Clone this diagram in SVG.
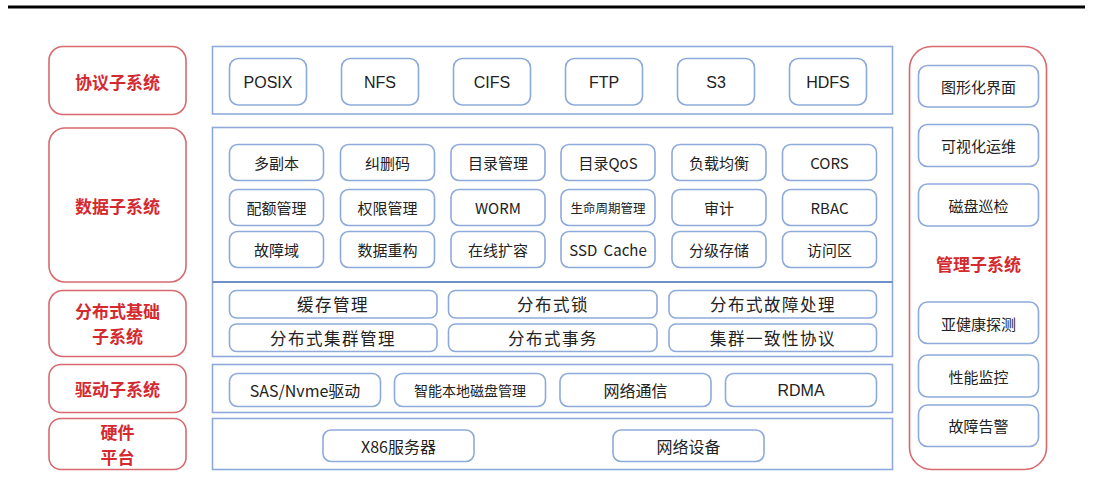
<svg xmlns="http://www.w3.org/2000/svg" width="1093" height="485" viewBox="0 0 1093 485">
<style>
.red{fill:#fff;stroke:#d86a6e;stroke-width:1.6}
.panel{fill:#fff;stroke:#8eaadb;stroke-width:1.6}
.box{fill:#fff;stroke:#8eaadb;stroke-width:1.6}
.rt{font-family:"Noto Sans CJK SC","Liberation Sans",sans-serif;font-size:17px;font-weight:bold;fill:#d42a2f;text-anchor:middle;dominant-baseline:central}
.t{font-family:"Noto Sans CJK SC","Liberation Sans",sans-serif;font-size:15px;fill:#222;text-anchor:middle;dominant-baseline:central}
.p{font-family:"Liberation Sans","Noto Sans CJK SC",sans-serif;font-size:16px;fill:#222;text-anchor:middle;dominant-baseline:central}
.d{font-family:"Noto Sans CJK SC","Liberation Sans",sans-serif;font-size:16.5px;fill:#222;text-anchor:middle;dominant-baseline:central;letter-spacing:1.5px}
</style>
<rect x="0" y="0" width="1093" height="485" fill="#fff"/>
<line x1="8" y1="7" x2="1085" y2="7" stroke="#000" stroke-width="3"/>

<g id="left-labels">
<g id="l-protocol"><rect class="red" x="49" y="46.5" width="137" height="68" rx="14"/><text class="rt" x="117.5" y="81">协议子系统</text></g>
<g id="l-data"><rect class="red" x="49" y="128" width="137" height="154" rx="16"/><text class="rt" x="117.5" y="205">数据子系统</text></g>
<g id="l-dist"><rect class="red" x="49" y="290.5" width="137" height="66" rx="14"/><text class="rt" x="117.5" y="310.5">分布式基础</text><text class="rt" x="117.5" y="335.5">子系统</text></g>
<g id="l-driver"><rect class="red" x="49" y="364.5" width="137" height="48" rx="12"/><text class="rt" x="117.5" y="388.5">驱动子系统</text></g>
<g id="l-hw"><rect class="red" x="49" y="418.5" width="137" height="51" rx="12"/><text class="rt" x="117.5" y="431.5">硬件</text><text class="rt" x="117.5" y="456.5">平台</text></g>
</g>

<g id="panels">
<rect class="panel" x="212.5" y="46.5" width="680" height="67.5"/>
<rect class="panel" x="212.5" y="127.5" width="680" height="229"/>
<line x1="212.5" y1="282" x2="892.5" y2="282" stroke="#6f8fc8" stroke-width="1.8"/>
<rect class="panel" x="212.5" y="364.5" width="680" height="48"/>
<rect class="panel" x="212.5" y="418.5" width="680" height="51"/>
</g>

<g id="protocol">
<g id="n-posix"><rect class="box" x="229.5" y="58.5" width="77" height="46.5" rx="9"/><text class="p" x="268" y="82">POSIX</text></g>
<g id="n-nfs"><rect class="box" x="341.5" y="58.5" width="77" height="46.5" rx="9"/><text class="p" x="380" y="82">NFS</text></g>
<g id="n-cifs"><rect class="box" x="453.5" y="58.5" width="77" height="46.5" rx="9"/><text class="p" x="492" y="82">CIFS</text></g>
<g id="n-ftp"><rect class="box" x="565.5" y="58.5" width="77" height="46.5" rx="9"/><text class="p" x="604" y="82">FTP</text></g>
<g id="n-s3"><rect class="box" x="677.5" y="58.5" width="77" height="46.5" rx="9"/><text class="p" x="716" y="82">S3</text></g>
<g id="n-hdfs"><rect class="box" x="789.5" y="58.5" width="77" height="46.5" rx="9"/><text class="p" x="828" y="82">HDFS</text></g>
</g>

<g id="data">
<g id="n-d1"><rect class="box" x="229.5" y="144.5" width="94" height="36" rx="8"/><text class="t" x="276.5" y="162">多副本</text></g>
<g id="n-d2"><rect class="box" x="340.5" y="144.5" width="94" height="36" rx="8"/><text class="t" x="387.5" y="162">纠删码</text></g>
<g id="n-d3"><rect class="box" x="451" y="144.5" width="94" height="36" rx="8"/><text class="t" x="498" y="162">目录管理</text></g>
<g id="n-d4"><rect class="box" x="561" y="144.5" width="94" height="36" rx="8"/><text class="t" x="608" y="162">目录QoS</text></g>
<g id="n-d5"><rect class="box" x="672" y="144.5" width="94" height="36" rx="8"/><text class="t" x="719" y="162">负载均衡</text></g>
<g id="n-d6"><rect class="box" x="782.5" y="144.5" width="94" height="36" rx="8"/><text class="t" x="829.5" y="162">CORS</text></g>

<g id="n-d7"><rect class="box" x="229.5" y="189.5" width="94" height="36" rx="8"/><text class="t" x="276.5" y="207.5">配额管理</text></g>
<g id="n-d8"><rect class="box" x="340.5" y="189.5" width="94" height="36" rx="8"/><text class="t" x="387.5" y="207.5">权限管理</text></g>
<g id="n-d9"><rect class="box" x="451" y="189.5" width="94" height="36" rx="8"/><text class="t" x="498" y="207.5">WORM</text></g>
<g id="n-d10"><rect class="box" x="561" y="189.5" width="94" height="36" rx="8"/><text class="t" x="608" y="207.5" style="font-size:12.5px">生命周期管理</text></g>
<g id="n-d11"><rect class="box" x="672" y="189.5" width="94" height="36" rx="8"/><text class="t" x="719" y="207.5">审计</text></g>
<g id="n-d12"><rect class="box" x="782.5" y="189.5" width="94" height="36" rx="8"/><text class="t" x="829.5" y="207.5">RBAC</text></g>

<g id="n-d13"><rect class="box" x="229.5" y="231.5" width="94" height="36" rx="8"/><text class="t" x="276.5" y="249.5">故障域</text></g>
<g id="n-d14"><rect class="box" x="340.5" y="231.5" width="94" height="36" rx="8"/><text class="t" x="387.5" y="249.5">数据重构</text></g>
<g id="n-d15"><rect class="box" x="451" y="231.5" width="94" height="36" rx="8"/><text class="t" x="498" y="249.5">在线扩容</text></g>
<g id="n-d16"><rect class="box" x="561" y="231.5" width="94" height="36" rx="8"/><text class="t" x="608" y="249.5" style="word-spacing:3px">SSD Cache</text></g>
<g id="n-d17"><rect class="box" x="672" y="231.5" width="94" height="36" rx="8"/><text class="t" x="719" y="249.5">分级存储</text></g>
<g id="n-d18"><rect class="box" x="782.5" y="231.5" width="94" height="36" rx="8"/><text class="t" x="829.5" y="249.5">访问区</text></g>
</g>

<g id="distributed">
<g id="n-c1"><rect class="box" x="229.5" y="290.5" width="207.5" height="27.5" rx="7"/><text class="d" x="333" y="304">缓存管理</text></g>
<g id="n-c2"><rect class="box" x="448.5" y="290.5" width="208.5" height="27.5" rx="7"/><text class="d" x="553" y="304">分布式锁</text></g>
<g id="n-c3"><rect class="box" x="669" y="290.5" width="207.5" height="27.5" rx="7"/><text class="d" x="773" y="304">分布式故障处理</text></g>
<g id="n-c4"><rect class="box" x="229.5" y="324" width="207.5" height="27.5" rx="7"/><text class="d" x="333" y="337.5">分布式集群管理</text></g>
<g id="n-c5"><rect class="box" x="448.5" y="324" width="208.5" height="27.5" rx="7"/><text class="d" x="553" y="337.5">分布式事务</text></g>
<g id="n-c6"><rect class="box" x="669" y="324" width="207.5" height="27.5" rx="7"/><text class="d" x="773" y="337.5">集群一致性协议</text></g>
</g>

<g id="driver">
<g id="n-r1"><rect class="box" x="229.5" y="373.5" width="151" height="33" rx="8"/><text class="t" x="305" y="390" style="font-size:16px">SAS/Nvme驱动</text></g>
<g id="n-r2"><rect class="box" x="394.5" y="373.5" width="151" height="33" rx="8"/><text class="t" x="470" y="390" style="font-size:14px">智能本地磁盘管理</text></g>
<g id="n-r3"><rect class="box" x="560" y="373.5" width="151" height="33" rx="8"/><text class="t" x="635.5" y="390" style="font-size:16px">网络通信</text></g>
<g id="n-r4"><rect class="box" x="725.5" y="373.5" width="151" height="33" rx="8"/><text class="p" x="801" y="390">RDMA</text></g>
</g>

<g id="hardware">
<g id="n-h1"><rect class="box" x="323" y="430" width="151" height="31.5" rx="8"/><text class="t" x="398.5" y="445.5" style="font-size:16px">X86服务器</text></g>
<g id="n-h2"><rect class="box" x="613" y="430" width="151" height="31.5" rx="8"/><text class="t" x="688.5" y="445.5" style="font-size:16px">网络设备</text></g>
</g>

<g id="management">
<rect class="red" x="909.5" y="46.5" width="137" height="423" rx="22"/>
<g id="n-m1"><rect class="box" x="918.5" y="65.5" width="120" height="41.5" rx="9"/><text class="t" x="978.5" y="86">图形化界面</text></g>
<g id="n-m2"><rect class="box" x="918.5" y="124.5" width="120" height="42" rx="9"/><text class="t" x="978.5" y="145.5">可视化运维</text></g>
<g id="n-m3"><rect class="box" x="918.5" y="184" width="120" height="42" rx="9"/><text class="t" x="978.5" y="205">磁盘巡检</text></g>
<text class="rt" x="978.5" y="263">管理子系统</text>
<g id="n-m4"><rect class="box" x="918.5" y="302" width="120" height="41.5" rx="9"/><text class="t" x="978.5" y="323">亚健康探测</text></g>
<g id="n-m5"><rect class="box" x="918.5" y="355" width="120" height="42" rx="9"/><text class="t" x="978.5" y="376">性能监控</text></g>
<g id="n-m6"><rect class="box" x="918.5" y="405" width="120" height="41.5" rx="9"/><text class="t" x="978.5" y="425.5">故障告警</text></g>
</g>
</svg>
